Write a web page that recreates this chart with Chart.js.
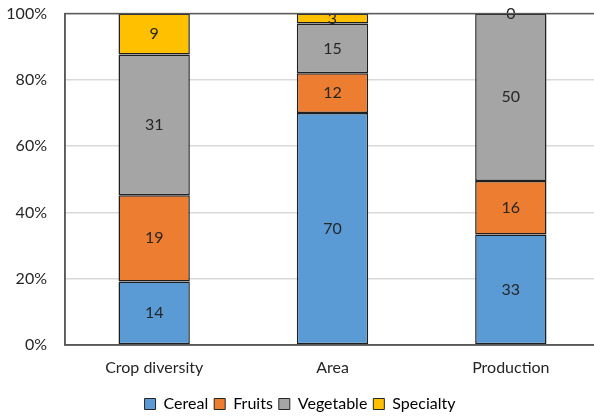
<!DOCTYPE html>
<html>
<head>
<meta charset="utf-8">
<script src="https://cdn.jsdelivr.net/npm/chart.js@4.4.1/dist/chart.umd.min.js"></script>
<style>
  html, body { margin: 0; padding: 0; background: #fff; overflow: hidden; }
  #wrap { width: 600px; height: 416px; position: relative; }
</style>
</head>
<body>
<div id="wrap"><canvas id="chart"></canvas></div>
<script>
// --- DATA ---
const categories = ['Crop diversity', 'Area', 'Production'];
const cereal = [14, 70, 33];
const fruits = [19, 12, 16];
const vegetable = [31, 15, 50];
const specialty = [9, 3, 0];
const yTicks = [0, 20, 40, 60, 80, 100];

const series = [
    { label: 'Cereal', values: cereal, color: '#5b9bd5' },
    { label: 'Fruits', values: fruits, color: '#ed7d31' },
    { label: 'Vegetable', values: vegetable, color: '#a5a5a5' },
    { label: 'Specialty', values: specialty, color: '#ffc000' }
];

// 100% stacked: share of each category total
const totals = categories.map((c, i) => series.reduce((s, d) => s + d.values[i], 0));

const FONT = "Lato, 'Open Sans', sans-serif";

// raw values written in the middle of each segment
const valueLabels = {
    id: 'valueLabels',
    afterDatasetsDraw(chart) {
        const ctx = chart.ctx;
        ctx.save();
        ctx.font = '16px ' + FONT;
        ctx.fillStyle = '#262626';
        ctx.textAlign = 'center';
        ctx.textBaseline = 'middle';
        chart.data.datasets.forEach((ds, di) => {
            chart.getDatasetMeta(di).data.forEach((bar, i) => {
                const y = (bar.y + bar.base) / 2;
                ctx.fillText(String(ds.raw[i]), bar.x, y);
            });
        });
        ctx.restore();
    }
};

// dark frame around the plot area
const plotFrame = {
    id: 'plotFrame',
    afterDatasetsDraw(chart) {
        const a = chart.chartArea;
        const ctx = chart.ctx;
        ctx.save();
        ctx.strokeStyle = '#595959';
        ctx.lineWidth = 1.5;
        ctx.strokeRect(a.left, a.top, a.right - a.left, a.bottom - a.top);
        ctx.restore();
    }
};

new Chart(document.getElementById('chart'), {
    type: 'bar',
    data: {
        labels: categories,
        datasets: series.map(s => ({
            label: s.label,
            raw: s.values,
            data: s.values.map((v, i) => v / totals[i] * 100),
            backgroundColor: s.color,
            borderColor: '#1f1f1f',
            borderWidth: 1.5,
            borderSkipped: false,
            categoryPercentage: 0.4,
            barPercentage: 1
        }))
    },
    options: {
        responsive: true,
        maintainAspectRatio: false,
        animation: false,
        layout: { padding: { top: 0, right: 0, bottom: -6, left: 0 } },
        plugins: {
            tooltip: { enabled: false },
            legend: {
                position: 'bottom',
                labels: {
                    boxWidth: 11,
                    boxHeight: 11,
                    padding: 6,
                    color: '#262626',
                    font: { family: FONT, size: 16 },
                    generateLabels(chart) {
                        return chart.data.datasets.map((ds, i) => ({
                            text: ds.label,
                            fillStyle: ds.backgroundColor,
                            strokeStyle: '#262626',
                            lineWidth: 1,
                            datasetIndex: i
                        }));
                    }
                }
            }
        },
        scales: {
            x: {
                stacked: true,
                grid: { display: false, drawTicks: false },
                border: { display: true, color: '#595959', width: 1.5 },
                ticks: { color: '#262626', font: { family: FONT, size: 16 }, padding: 13 },
                afterFit(scale) { scale.height = 45; }
            },
            y: {
                stacked: true,
                min: 0,
                max: 100,
                afterBuildTicks(scale) { scale.ticks = yTicks.map(v => ({ value: v })); },
                grid: { color: '#d9d9d9', lineWidth: 1.5, drawTicks: true, tickLength: 14, tickColor: 'rgba(0,0,0,0)' },
                border: { display: true, color: '#595959', width: 1.5 },
                ticks: {
                    color: '#262626',
                    font: { family: FONT, size: 16 },
                    padding: 4,
                    callback: v => v + '%'
                },
                afterFit(scale) { scale.width = 65; }
            }
        }
    },
    plugins: [valueLabels, plotFrame]
});
</script>
</body>
</html>
